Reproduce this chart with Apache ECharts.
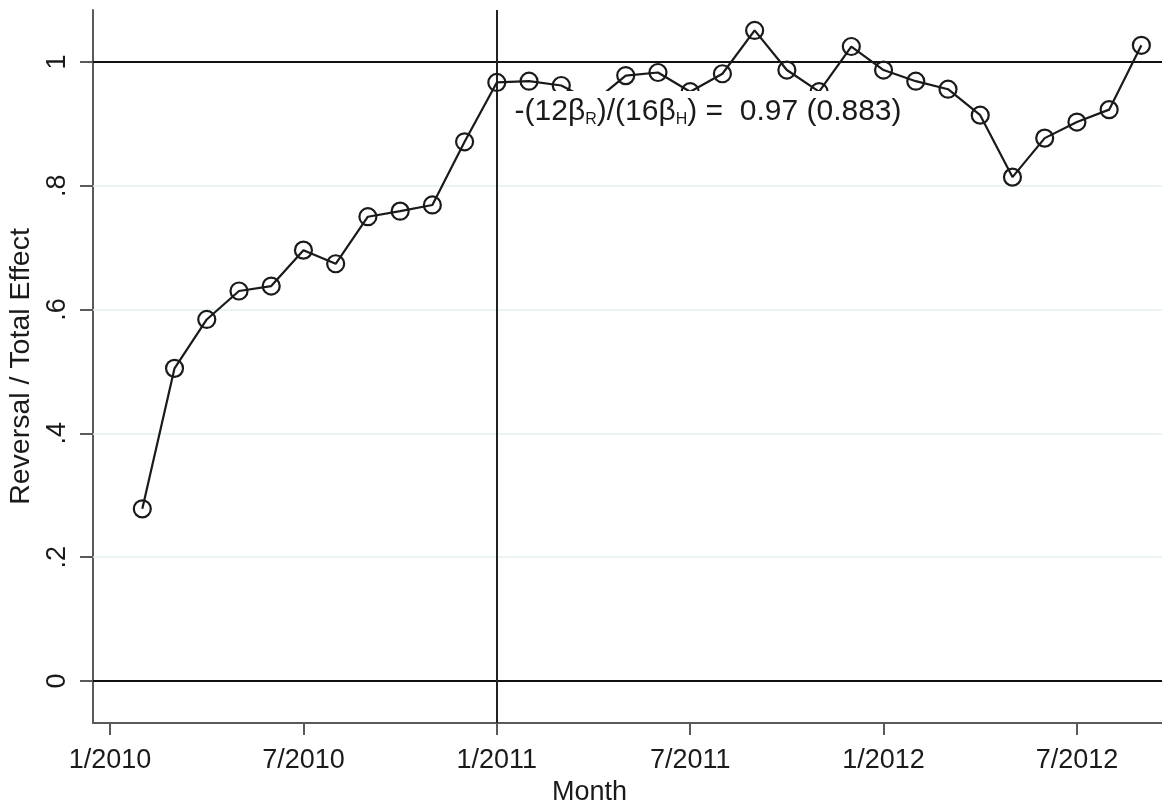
<!DOCTYPE html>
<html>
<head>
<meta charset="utf-8">
<script src="https://cdn.jsdelivr.net/npm/echarts@6/dist/echarts.min.js"></script>
<style>
  html, body { margin: 0; padding: 0; background: #fff; }
  #main { width: 1162px; height: 802px; }
</style>
</head>
<body>
<div id="main"></div>
<script>
// monthly ratio
const months = [
  '2/2010', '3/2010', '4/2010', '5/2010', '6/2010', '7/2010', '8/2010', '9/2010', '10/2010', '11/2010', '12/2010',
  '1/2011', '2/2011', '3/2011', '4/2011', '5/2011', '6/2011', '7/2011', '8/2011', '9/2011', '10/2011', '11/2011', '12/2011',
  '1/2012', '2/2012', '3/2012', '4/2012', '5/2012', '6/2012', '7/2012', '8/2012', '9/2012'
];
const ratio = [
  0.278, 0.505, 0.584, 0.630, 0.638, 0.696, 0.674, 0.750, 0.759, 0.769, 0.871,
  0.967, 0.969, 0.962, 0.935, 0.978, 0.983, 0.952, 0.981, 1.051, 0.987, 0.952, 1.025,
  0.987, 0.969, 0.956, 0.914, 0.814, 0.877, 0.903, 0.923, 1.027
];
const xTickLabels = ['1/2010', '7/2010', '1/2011', '7/2011', '1/2012', '7/2012'];
const yTickValues = [0, 0.2, 0.4, 0.6, 0.8, 1];
const yTickLabels = ['0', '.2', '.4', '.6', '.8', '1'];
const gridValues = [0.2, 0.4, 0.6, 0.8];
const refLinesY = [0, 1];
const refLineX = '1/2011';

// months since 1/2010
const monthIndex = (s) => {
  const [m, y] = s.split('/').map(Number);
  return (y - 2010) * 12 + (m - 1);
};
const xTickValues = xTickLabels.map(monthIndex);

const FONT = '"Liberation Sans", Arial, sans-serif';
const TXT = '#1a1a1a';

const chart = echarts.init(document.getElementById('main'));

const option = {
  backgroundColor: '#fff',
  animation: false,
  grid: { left: 93, right: 0, top: 10, bottom: 79, outerBoundsMode: 'none', containLabel: false },
  xAxis: {
    type: 'value',
    min: -0.53,
    max: 32.64,
    name: 'Month',
    nameLocation: 'middle',
    nameGap: 44,
    nameTextStyle: { fontFamily: FONT, fontSize: 27, color: TXT, padding: [0, 76, 0, 0] },
    axisLine: { show: true, onZero: false, lineStyle: { color: '#5a5a5a', width: 2 } },
    axisTick: { show: true, length: 12, customValues: xTickValues, lineStyle: { color: '#5a5a5a', width: 2 } },
    axisLabel: {
      customValues: xTickValues,
      margin: 24,
      fontFamily: FONT, fontSize: 27, color: TXT,
      formatter: (v) => xTickLabels[xTickValues.indexOf(v)] || ''
    },
    splitLine: { show: false }
  },
  yAxis: {
    type: 'value',
    min: -0.068,
    max: 1.084,
    name: 'Reversal / Total Effect',
    nameLocation: 'middle',
    nameGap: 56,
    nameRotate: 90,
    nameTextStyle: { fontFamily: FONT, fontSize: 28.5, color: TXT },
    axisLine: { show: true, onZero: false, lineStyle: { color: '#5a5a5a', width: 2 } },
    axisTick: { show: true, length: 13, customValues: yTickValues, lineStyle: { color: '#5a5a5a', width: 2 } },
    axisLabel: {
      customValues: yTickValues,
      rotate: 90,
      margin: 22,
      fontFamily: FONT, fontSize: 27, color: TXT,
      formatter: (v) => yTickLabels[yTickValues.indexOf(v)] || ''
    },
    splitLine: { show: false }
  },
  series: [
    {
      type: 'line',
      data: months.map((m, i) => [monthIndex(m), ratio[i]]),
      symbol: 'circle',
      symbolSize: 17,
      lineStyle: { color: '#1a1a1a', width: 2.2 },
      itemStyle: { color: 'rgba(0,0,0,0)', borderColor: '#1a1a1a', borderWidth: 2.2 },
      markLine: {
        silent: true,
        z: 1,
        symbol: 'none',
        label: { show: false },
        data: [
          ...gridValues.map((v) => ({ yAxis: v, lineStyle: { color: '#e6eff0', width: 1.5, type: 'solid' } })),
          ...refLinesY.map((v) => ({ yAxis: v, lineStyle: { color: '#111', width: 2, type: 'solid' } })),
          { xAxis: monthIndex(refLineX), lineStyle: { color: '#222', width: 2, type: 'solid' } }
        ]
      },
      markPoint: {
        silent: true,
        symbol: 'rect',
        symbolSize: 1,
        itemStyle: { color: 'rgba(0,0,0,0)' },
        label: {
          show: true,
          position: 'right',
          distance: 0,
          backgroundColor: '#fff',
          padding: [5, 6, 4, 6],
          color: TXT,
          formatter: '{a|-(12β}{s|R}{a|)/(16β}{s|H}{a|) =  0.97 (0.883)}',
          rich: {
            a: { fontFamily: FONT, fontSize: 30, color: TXT, lineHeight: 32 },
            s: { fontFamily: FONT, fontSize: 16, color: TXT, lineHeight: 16, verticalAlign: 'bottom' }
          }
        },
        data: [{ coord: [12.35, 0.92] }]
      }
    }
  ]
};

chart.setOption(option);
</script>
</body>
</html>
